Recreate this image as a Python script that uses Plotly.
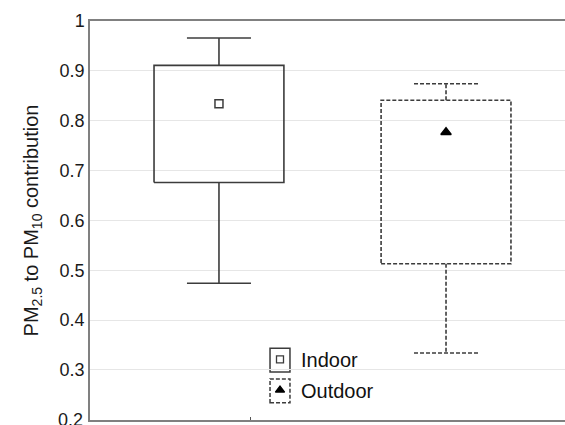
import plotly.graph_objects as go

# ---- data ----
groups = ["Indoor", "Outdoor"]
positions = [1, 2]
whisker_low = [0.474, 0.334]
box_low = [0.676, 0.513]
mean_vals = [0.834, 0.777]
box_high = [0.911, 0.841]
whisker_high = [0.966, 0.874]
y_tick_vals = [0.2, 0.3, 0.4, 0.5, 0.6, 0.7, 0.8, 0.9, 1.0]
y_tick_text = ["0.2", "0.3", "0.4", "0.5", "0.6", "0.7", "0.8", "0.9", "1"]

# ---- styles ----
line_color = "#3c3c3c"
dashes = ["solid", "4px,2px"]
mean_symbols = ["square-open", "triangle-up"]
mean_colors = ["#3c3c3c", "#000000"]
mean_sizes = [8, 9]
box_half = 0.286
cap_half = 0.141

fig = go.Figure()

for i, g in enumerate(groups):
    x0 = positions[i]
    ln = dict(color=line_color, width=1.6, dash=dashes[i])
    # box
    fig.add_trace(go.Scatter(
        x=[x0 - box_half, x0 + box_half, x0 + box_half, x0 - box_half, x0 - box_half],
        y=[box_low[i], box_low[i], box_high[i], box_high[i], box_low[i]],
        mode="lines", line=ln, showlegend=False, hoverinfo="skip"))
    # whiskers
    fig.add_trace(go.Scatter(
        x=[x0, x0, None, x0 - cap_half, x0 + cap_half, None,
           x0, x0, None, x0 - cap_half, x0 + cap_half],
        y=[box_high[i], whisker_high[i], None, whisker_high[i], whisker_high[i], None,
           box_low[i], whisker_low[i], None, whisker_low[i], whisker_low[i]],
        mode="lines", line=ln, showlegend=False, hoverinfo="skip"))
    # mean
    fig.add_trace(go.Scatter(
        x=[x0], y=[mean_vals[i]], mode="markers",
        marker=dict(symbol=mean_symbols[i], size=mean_sizes[i], color=mean_colors[i],
                    line=dict(width=1.5, color=mean_colors[i])),
        showlegend=False, name=g))

# ---- custom legend (paper coords + overlay axes for markers) ----
leg_x0, leg_x1 = 0.379, 0.421
leg_rows = [(0.12, 0.18), (0.043, 0.103)]
for i, g in enumerate(groups):
    ylo, yhi = leg_rows[i]
    fig.add_shape(type="rect", xref="paper", yref="paper",
                  x0=leg_x0, x1=leg_x1, y0=ylo, y1=yhi, layer="between",
                  line=dict(color=line_color, width=1.5, dash=dashes[i]),
                  fillcolor="white")
    fig.add_annotation(x=0.44, y=(ylo + yhi) / 2, xref="paper", yref="paper",
                       text=g, showarrow=False, xanchor="left", yanchor="middle",
                       font=dict(size=20, color="#111111"))
    fig.add_trace(go.Scatter(
        x=[(leg_x0 + leg_x1) / 2], y=[(ylo + yhi) / 2 + 0.002],
        xaxis="x2", yaxis="y2", mode="markers",
        marker=dict(symbol=mean_symbols[i], size=mean_sizes[i] - 1, color=mean_colors[i],
                    line=dict(width=1.3, color=mean_colors[i])),
        showlegend=False, hoverinfo="skip"))

# bottom tick label (partly cut by the frame edge, as in the reference)
fig.add_annotation(x=0, y=y_tick_vals[0], xref="paper", yref="y",
                   text=y_tick_text[0], showarrow=False, xanchor="right",
                   yanchor="middle", xshift=-5,
                   font=dict(size=18, color="#1a1a1a"))

fig.update_layout(
    width=565, height=425,
    margin=dict(l=90, r=0, t=21, b=5, autoexpand=False),
    paper_bgcolor="white", plot_bgcolor="white",
    font=dict(family="Liberation Sans, Arial, sans-serif", color="#1a1a1a"),
    showlegend=False,
    xaxis=dict(range=[0.432, 2.524], showgrid=False, zeroline=False,
               showline=True, linecolor="#808080", linewidth=1.5, mirror=True,
               tickvals=[1.14], ticktext=[""], ticks="inside", ticklen=3,
               tickcolor="#555555"),
    yaxis=dict(range=[0.1995, 1.0], tickvals=y_tick_vals[1:], ticktext=y_tick_text[1:],
               showgrid=True, gridcolor="#e6e6e6", gridwidth=1, zeroline=False,
               showline=True, linecolor="#808080", linewidth=1.5, mirror=False,
               ticks="", tickfont=dict(size=18, color="#1a1a1a"),
               title=dict(text="PM<sub>2.5</sub> to PM<sub>10</sub> contribution",
                          font=dict(size=20, color="#1a1a1a"), standoff=16)),
    xaxis2=dict(range=[0, 1], overlaying="x", visible=False, fixedrange=True),
    yaxis2=dict(range=[0, 1], overlaying="y", visible=False, fixedrange=True),
)

fig.write_html(
    "out.html",
    config={"displayModeBar": False},
    post_script="document.body.style.margin='0';document.body.style.overflow='hidden';",
)
